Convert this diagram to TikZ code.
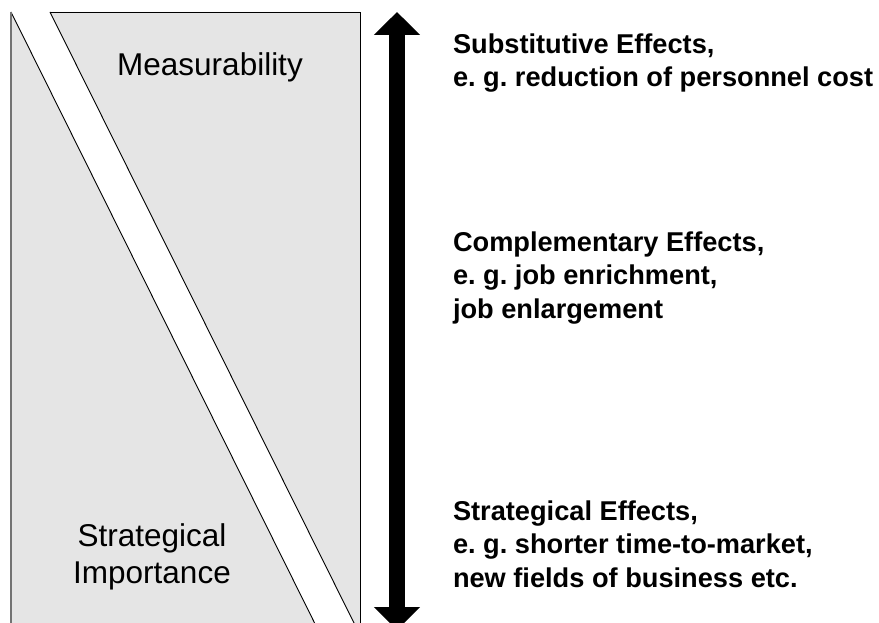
\documentclass[tikz,border=0pt]{standalone}
\usepackage{fontspec}
\setmainfont{Liberation Sans}
\usepackage{tikz}
\usetikzlibrary{positioning}
\usetikzlibrary{arrows.meta}

\definecolor{panelgray}{HTML}{E5E5E5}
\frenchspacing

\begin{document}
\begin{tikzpicture}[x=1pt, y=-1pt,
      every node/.style={inner sep=0pt, outer sep=0pt},
      panel/.style={fill=panelgray, draw=none},
      edge/.style={draw=black, line width=0.9pt},
      sideedge/.style={draw=black!55, line width=1.8pt},
      dimlabel/.style={font=\fontsize{31.5}{37}\selectfont, align=center},
      effect/.style={font=\fontsize{27.2}{33.5}\selectfont\bfseries, align=left, anchor=west},
      bigarrow/.style={line width=16pt,
                       {Triangle[length=23pt, width=45pt]}-{Triangle[length=23pt, width=45pt]}},
  ]
    \useasboundingbox (0,0) rectangle (879,623);
    \clip (0,0) rectangle (879,623);

    % panel split by a white diagonal band
    \coordinate (tl)  at (11,12);
    \coordinate (tm)  at (50,12);
    \coordinate (tr)  at (360,12);
    \coordinate (br)  at (360,635);
    \coordinate (bl)  at (11,660);
    \coordinate (bm)  at (333,660);

    \path[panel] (tm) -- (tr) -- (br) -- cycle;
    \path[panel] (tl) -- (bm) -- (bl) -- cycle;
    \draw[edge] (tm) -- (tr) -- (360,660);
    \draw[edge] (tm) -- (br);
    \draw[edge] (tl) -- (bm);
    \draw[sideedge] (tl) -- (bl);

    \node[dimlabel] (meas)  at (210,67)  {Measurability};
    \node[dimlabel] (strat) at (152,557) {Strategical\\Importance};

    % double headed arrow
    \coordinate (up)   at (397,12);
    \coordinate (down) at (397,630);
    \draw[bigarrow] (up) -- (down);

    \node[effect] (subst) at (453,63)  {Substitutive Effects,\\e. g. reduction of personnel cost};
    \node[effect] (compl) at (453,278) {Complementary Effects,\\e. g. job enrichment,\\job enlargement};
    \node[effect] (strg)  at (453,544) {Strategical Effects,\\e. g. shorter time-to-market,\\new fields of business etc.};
  \end{tikzpicture}
\end{document}
